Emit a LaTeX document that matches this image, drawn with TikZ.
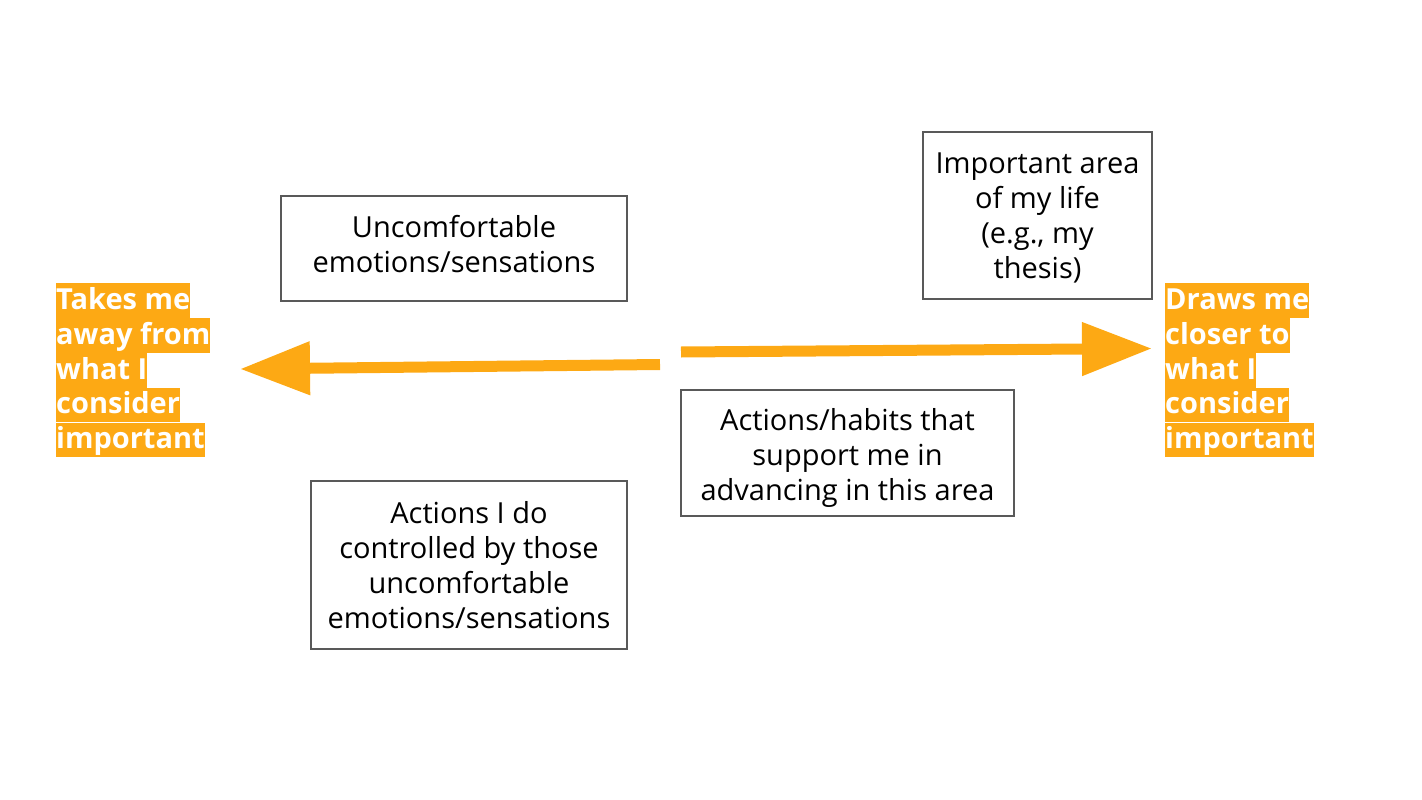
\documentclass[tikz,border=0pt]{standalone}
\usepackage{fontspec}
\setmainfont{Open Sans}
\usetikzlibrary{arrows.meta}
\definecolor{orng}{RGB}{253,169,20}
\definecolor{bordergray}{RGB}{89,89,89}
\begin{document}
\begin{tikzpicture}[x=1pt,y=-1pt,
  boxframe/.style={draw=bordergray,line width=1.3pt,fill=white,inner sep=0pt},
  boxtext/.style={align=center,inner sep=0pt,font=\fontsize{29}{35}\selectfont,text=black},
  hl/.style={fill=orng,text=white,inner xsep=0pt,inner ysep=0pt,text height=26pt,text depth=8.5pt,
    anchor=north west,font=\fontsize{29}{34.5}\selectfont\bfseries},
  bigarrow/.style={draw=orng,line width=11pt,-{Triangle[length=70pt,width=51pt]}}]
\useasboundingbox (0,0) rectangle (1422,800);
% boxes
\node[boxframe,minimum width=346pt,minimum height=105pt] (unc) at (454,248.5) {};
\node[boxtext] (unct) at ([yshift=4pt]unc.center) {Uncomfortable\\emotions/sensations};
\node[boxframe,minimum width=229pt,minimum height=167pt] (imp) at (1037.5,215.5) {};
\node[boxtext] (impt) at ([yshift=-2pt]imp.center) {Important area\\of my life\\(e.g., my\\thesis)};
\node[boxframe,minimum width=333pt,minimum height=126pt] (hab) at (847.5,453) {};
\node[boxtext] (habt) at ([yshift=-5pt]hab.center) {Actions/habits that\\support me in\\advancing in this area};
\node[boxframe,minimum width=316pt,minimum height=168pt] (act) at (469,565) {};
\node[boxtext] (actt) at (act.center) {Actions I do\\controlled by those\\uncomfortable\\emotions/sensations};
% left label
\node[hl] (a1) at (56,283) {Takes me};
\node[hl] (a2) at (a1.south west) {away from};
\node[hl] (a3) at (a2.south west) {what I};
\node[hl] (a4) at (a3.south west) {consider};
\node[hl] (a5) at (a4.south west) {important};
% right label
\node[hl] (b1) at (1165,283) {Draws me};
\node[hl] (b2) at (b1.south west) {closer to};
\node[hl] (b3) at (b2.south west) {what I};
\node[hl] (b4) at (b3.south west) {consider};
\node[hl] (b5) at (b4.south west) {important};
% arrows
\coordinate (ls) at (660,364.5);
\coordinate (le) at (240,369);
\coordinate (rs) at (681,352);
\coordinate (re) at (1152,348.5);
\draw[bigarrow] (ls) -- (le);
\draw[bigarrow] (rs) -- (re);
\end{tikzpicture}
\end{document}
